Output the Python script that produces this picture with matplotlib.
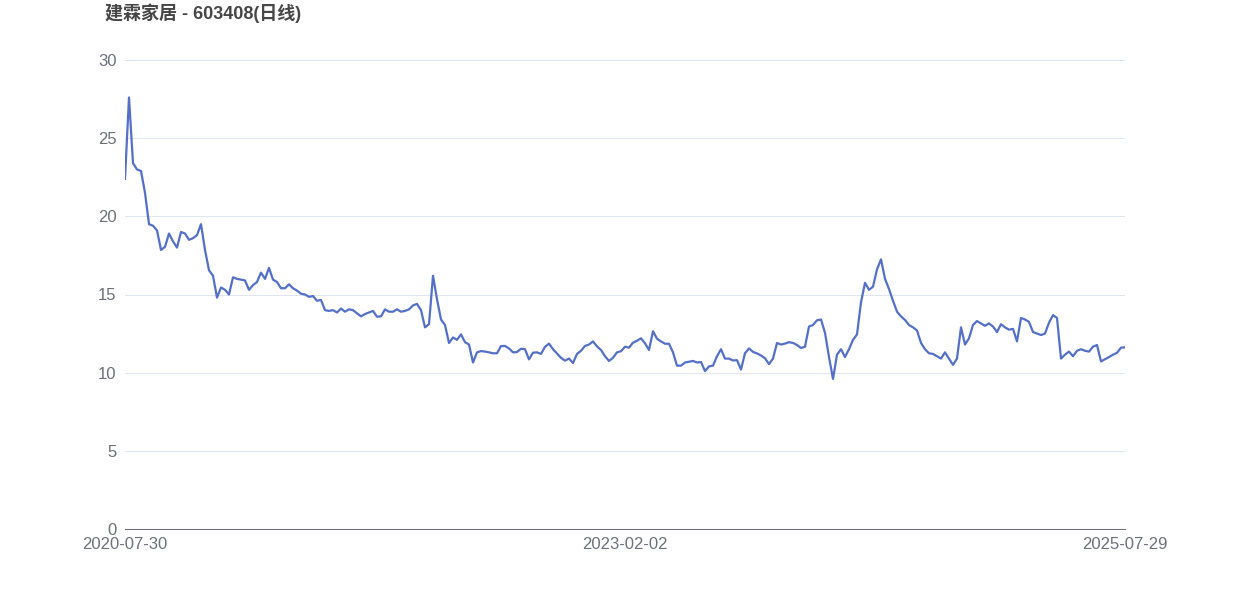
import numpy as np
import matplotlib
matplotlib.use("Agg")
import matplotlib.pyplot as plt

plt.rcParams['font.family'] = ['Liberation Sans', 'Noto Sans CJK SC', 'DejaVu Sans']

# 建霖家居 daily close at roughly weekly steps
close = [
    22.4, 27.6, 23.4, 23.0, 22.9, 21.5, 19.5, 19.4, 19.1, 17.85,
    18.05, 18.9, 18.4, 18.0, 19.0, 18.9, 18.5, 18.6, 18.8, 19.5,
    17.85, 16.55, 16.2, 14.8, 15.45, 15.3, 15.0, 16.1, 16.0, 15.95,
    15.9, 15.3, 15.6, 15.8, 16.4, 16.0, 16.7, 15.95, 15.8, 15.4,
    15.4, 15.65, 15.4, 15.25, 15.05, 15.0, 14.85, 14.9, 14.6, 14.65,
    14.0, 13.95, 14.0, 13.85, 14.1, 13.9, 14.05, 14.0, 13.8, 13.6,
    13.75, 13.85, 13.95, 13.58, 13.6, 14.05, 13.9, 13.9, 14.05, 13.9,
    13.95, 14.05, 14.3, 14.4, 14.0, 12.9, 13.1, 16.2, 14.7, 13.4,
    13.05, 11.9, 12.25, 12.1, 12.45, 11.95, 11.8, 10.65, 11.3, 11.38,
    11.35, 11.3, 11.24, 11.24, 11.7, 11.71, 11.55, 11.3, 11.32, 11.53,
    11.5, 10.85, 11.28, 11.3, 11.2, 11.65, 11.86, 11.5, 11.22, 10.95,
    10.77, 10.9, 10.62, 11.2, 11.4, 11.71, 11.8, 12.0, 11.68, 11.45,
    11.05, 10.75, 10.95, 11.3, 11.37, 11.66, 11.6, 11.92, 12.04, 12.2,
    11.88, 11.45, 12.65, 12.17, 12.0, 11.85, 11.85, 11.3, 10.45, 10.45,
    10.65, 10.7, 10.75, 10.65, 10.68, 10.1, 10.4, 10.45, 11.05, 11.5,
    10.9, 10.9, 10.78, 10.8, 10.2, 11.24, 11.55, 11.33, 11.23, 11.1,
    10.92, 10.55, 10.9, 11.9, 11.8, 11.86, 11.95, 11.9, 11.77, 11.58,
    11.66, 12.95, 13.05, 13.35, 13.4, 12.55, 11.0, 9.6, 11.15, 11.5,
    11.0, 11.5, 12.1, 12.45, 14.5, 15.75, 15.3, 15.5, 16.6, 17.25,
    16.0, 15.35, 14.6, 13.9, 13.6, 13.37, 13.05, 12.9, 12.7, 11.9,
    11.5, 11.24, 11.2, 11.05, 10.9, 11.3, 10.9, 10.5, 10.9, 12.9,
    11.8, 12.2, 13.05, 13.3, 13.15, 13.0, 13.15, 12.95, 12.6, 13.1,
    12.9, 12.75, 12.8, 12.0, 13.5, 13.4, 13.25, 12.6, 12.5, 12.41,
    12.5, 13.2, 13.68, 13.5, 10.9, 11.15, 11.35, 11.05, 11.4, 11.5,
    11.4, 11.35, 11.66, 11.77, 10.72, 10.86, 11.0, 11.15, 11.27, 11.6,
    11.62,
]
date_labels = ["2020-07-30", "2023-02-02", "2025-07-29"]
y_ticks = [0, 5, 10, 15, 20, 25, 30]
title = "建霖家居 - 603408(日线)"

x = np.arange(len(close))

fig = plt.figure(figsize=(12.5, 6), dpi=100)
ax = fig.add_axes([0.1, 1 - 529 / 600, 0.8, 469 / 600])

ax.plot(x, close, color="#5470c6", lw=1.6, solid_joinstyle="round")

ax.set_xlim(0, len(close) - 1)
ax.set_ylim(0, 30)
ax.set_yticks(y_ticks)
ax.set_xticks([0, (len(close) - 1) / 2, len(close) - 1])
ax.set_xticklabels(date_labels)

ax.grid(axis="y", color="#e0e6f1", lw=0.75)
ax.set_axisbelow(True)
for s in ["top", "right", "left"]:
    ax.spines[s].set_visible(False)
ax.spines["bottom"].set_color("#6e7079")
ax.spines["bottom"].set_linewidth(0.75)
ax.tick_params(axis="both", length=0, labelsize=12, labelcolor="#6e7079")
ax.tick_params(axis="y", pad=6)
ax.tick_params(axis="x", pad=6)

fig.text(0.084, 1 - 13 / 600, title, fontsize=13, fontweight="bold",
         color="#464646", va="center", ha="left")

fig.savefig("out.png", dpi=100)
